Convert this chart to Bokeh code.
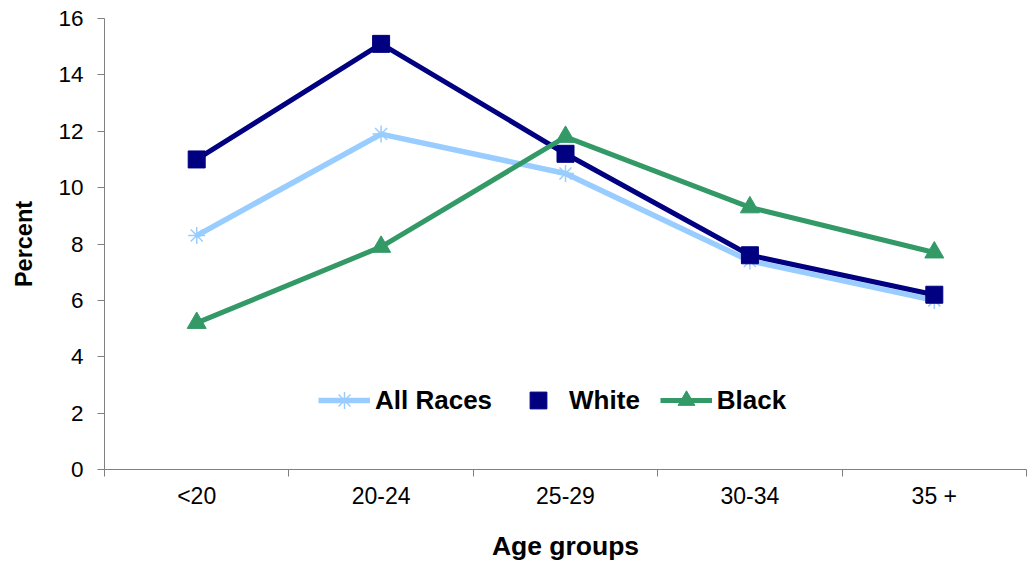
from bokeh.plotting import figure
from bokeh.models import FixedTicker, LinearAxis, Range1d, Legend, LegendItem
from bokeh.embed import file_html
from bokeh.resources import INLINE

categories = ["<20", "20-24", "25-29", "30-34", "35 +"]
all_races = [8.3, 11.9, 10.5, 7.4, 6.0]
white = [11.0, 15.1, 11.2, 7.6, 6.2]
black = [5.2, 7.9, 11.8, 9.3, 7.7]
y_ticks = [0, 2, 4, 6, 8, 10, 12, 14, 16]

n = len(categories)
x = [i + 0.5 for i in range(n)]
boundaries = list(range(n + 1))

FONT = "Liberation Sans"
GRAY = "#808080"

p = figure(width=1028, height=565,
           x_range=Range1d(0, n), y_range=Range1d(0, 16),
           output_backend="svg", toolbar_location=None,
           min_border_left=104, min_border_right=2, min_border_top=18,
           min_border_bottom=96, background_fill_color="white",
           border_fill_color="white")
p.outline_line_color = None
p.xgrid.visible = False
p.ygrid.visible = False

# Boundary tick axis (primary, closest to frame)
xa = p.xaxis[0]
xa.ticker = FixedTicker(ticks=boundaries)
xa.major_label_overrides = {b: "" for b in boundaries}
xa.major_label_text_font_size = "1px"
xa.major_label_standoff = 0
xa.axis_line_color = GRAY
xa.major_tick_line_color = GRAY
xa.major_tick_in = 0
xa.major_tick_out = 7
xa.minor_tick_line_color = None

# Category label axis
xl = LinearAxis(ticker=FixedTicker(ticks=x),
                major_label_overrides={xv: c for xv, c in zip(x, categories)})
xl.axis_line_color = None
xl.major_tick_line_color = None
xl.minor_tick_line_color = None
xl.major_label_standoff = 0
xl.major_label_text_font = FONT
xl.major_label_text_font_size = "23px"
xl.major_label_text_color = "black"
xl.axis_label = "Age groups"
xl.axis_label_text_font = FONT
xl.axis_label_text_font_size = "26.5px"
xl.axis_label_text_font_style = "bold"
xl.axis_label_text_color = "black"
xl.axis_label_standoff = 19
p.add_layout(xl, "below")

ya = p.yaxis[0]
ya.ticker = FixedTicker(ticks=y_ticks)
ya.axis_line_color = GRAY
ya.major_tick_line_color = GRAY
ya.major_tick_in = 0
ya.major_tick_out = 7
ya.minor_tick_line_color = None
ya.major_label_standoff = 14
ya.major_label_text_font = FONT
ya.major_label_text_font_size = "22.5px"
ya.major_label_text_color = "black"
ya.axis_label = "Percent"
ya.axis_label_text_font = FONT
ya.axis_label_text_font_size = "23.5px"
ya.axis_label_text_font_style = "bold"
ya.axis_label_text_color = "black"
ya.axis_label_standoff = 18

C_ALL = "#99CCFF"
C_WHITE = "#000080"
C_BLACK = "#339966"

l1 = p.line(x, all_races, line_color=C_ALL, line_width=5.5)
s1 = p.scatter(x, all_races, marker="asterisk", size=17, line_color=C_ALL, line_width=1.5)
l2 = p.line(x, white, line_color=C_WHITE, line_width=5)
s2 = p.scatter(x, white, marker="square", size=17, fill_color=C_WHITE, line_color=C_WHITE)
l3 = p.line(x, black, line_color=C_BLACK, line_width=5)
s3 = p.scatter(x, black, marker="triangle", size=19, fill_color=C_BLACK, line_color=C_BLACK)

legend = Legend(items=[
    LegendItem(label="All Races", renderers=[l1, s1]),
    LegendItem(label="White", renderers=[s2]),
    LegendItem(label="Black", renderers=[l3, s3]),
], orientation="horizontal", location=(214, 48),
    glyph_width=52, glyph_height=42, label_standoff=5, spacing=20,
    padding=0, margin=0, border_line_color=None, background_fill_alpha=0,
    label_text_font=FONT, label_text_font_style="bold",
    label_text_font_size="26px", label_text_color="black")
p.add_layout(legend)

open("out.html", "w").write(file_html(p, INLINE))
